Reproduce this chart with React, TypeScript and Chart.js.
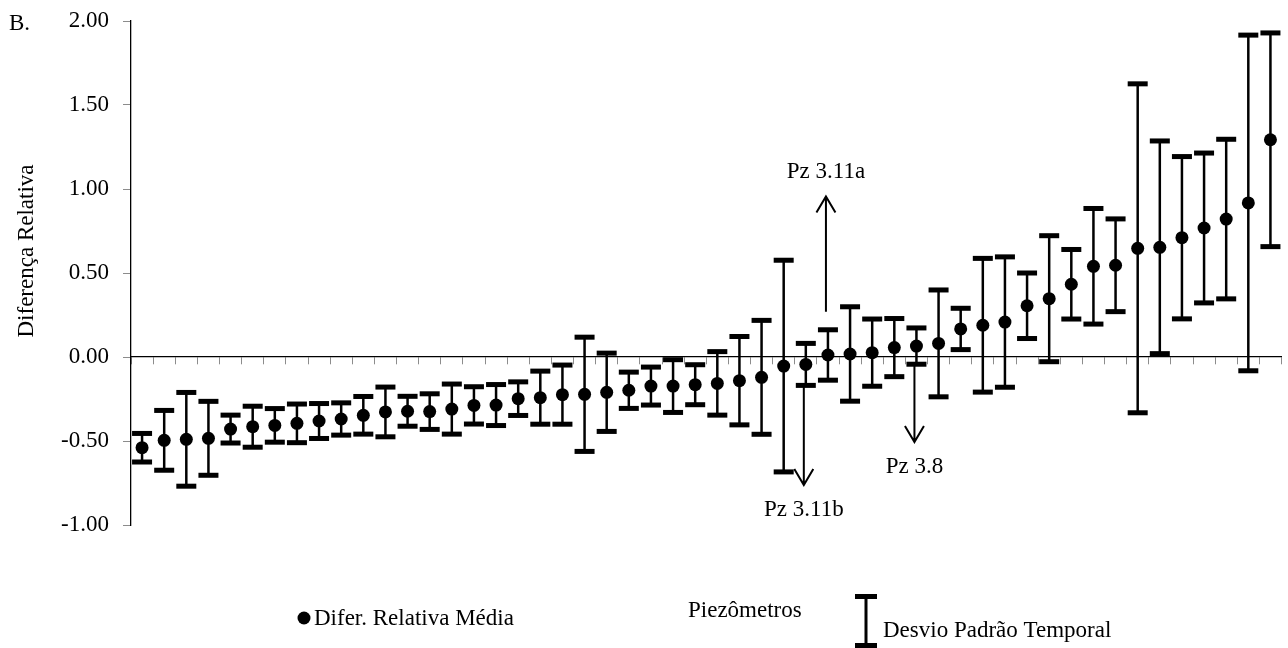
import React, { useEffect, useRef } from "react";
import { Chart, registerables } from "chart.js";

Chart.register(...registerables);

const FONT = "'Liberation Serif', 'Times New Roman', serif";

// Mean relative difference per piezometer, sorted ascending
const means = [
  -0.54, -0.496, -0.49, -0.484, -0.429, -0.415, -0.407, -0.395, -0.381, -0.369,
  -0.347, -0.327, -0.323, -0.325, -0.31, -0.288, -0.286, -0.248, -0.242, -0.224,
  -0.222, -0.21, -0.198, -0.173, -0.173, -0.165, -0.157, -0.141, -0.121, -0.054,
  -0.044, 0.012, 0.018, 0.026, 0.056, 0.065, 0.081, 0.167, 0.189, 0.208,
  0.305, 0.347, 0.433, 0.54, 0.546, 0.647, 0.653, 0.71, 0.768, 0.821,
  0.917, 1.293,
];

// Temporal standard deviation for each piezometer
const stdDevs = [
  0.085, 0.178, 0.279, 0.22, 0.083, 0.122, 0.1, 0.115, 0.104, 0.096,
  0.112, 0.148, 0.089, 0.106, 0.149, 0.111, 0.122, 0.1, 0.158, 0.176,
  0.34, 0.233, 0.108, 0.113, 0.157, 0.119, 0.189, 0.263, 0.339, 0.63,
  0.125, 0.15, 0.281, 0.2, 0.173, 0.108, 0.318, 0.123, 0.398, 0.388,
  0.195, 0.375, 0.207, 0.344, 0.276, 0.979, 0.633, 0.483, 0.446, 0.475,
  0.999, 0.636,
];

const categories = means.map((_, i) => String(i + 1));

const yTicks = [-1, -0.5, 0, 0.5, 1, 1.5, 2];

// Highlighted piezometers: arrow from -> to, label baseline at textAt
const noteLabels = ["Pz 3.11a", "Pz 3.11b", "Pz 3.8"];
const noteIndex = [31, 30, 35];
const noteFrom = [0.27, -0.171, -0.042];
const noteTo = [0.955, -0.762, -0.506];
const noteTextAt = [1.067, -0.946, -0.689];

const panelLetter = "B.";
const yTitle = "Diferença Relativa";
const xTitle = "Piezômetros";
const meanLegend = "Difer. Relativa Média";
const sdLegend = "Desvio Padrão Temporal";

const errorBars = {
  id: "errorBars",
  beforeDatasetsDraw(chart: any) {
    const { ctx, scales } = chart;
    const xs = scales.x;
    const ys = scales.y;
    ctx.save();
    ctx.fillStyle = "#000";
    ctx.strokeStyle = "#000";
    means.forEach((m, i) => {
      const x = xs.getPixelForValue(i);
      const yTop = ys.getPixelForValue(m + stdDevs[i]);
      const yBot = ys.getPixelForValue(m - stdDevs[i]);
      ctx.lineWidth = 2.5;
      ctx.beginPath();
      ctx.moveTo(x, yTop);
      ctx.lineTo(x, yBot);
      ctx.stroke();
      ctx.fillRect(x - 10, yTop - 2.5, 20, 5);
      ctx.fillRect(x - 10, yBot - 2.5, 20, 5);
    });
    ctx.restore();
  },
};

const notes = {
  id: "notes",
  afterDatasetsDraw(chart: any) {
    const { ctx, scales } = chart;
    const xs = scales.x;
    const ys = scales.y;
    ctx.save();
    ctx.strokeStyle = "#000";
    ctx.fillStyle = "#000";
    ctx.lineWidth = 2;
    ctx.font = `23px ${FONT}`;
    ctx.textAlign = "center";
    ctx.textBaseline = "alphabetic";
    noteLabels.forEach((label, k) => {
      const x = xs.getPixelForValue(noteIndex[k]) - 2;
      const y0 = ys.getPixelForValue(noteFrom[k]);
      const y1 = ys.getPixelForValue(noteTo[k]);
      const dir = y1 < y0 ? 1 : -1;
      ctx.beginPath();
      ctx.moveTo(x, y0);
      ctx.lineTo(x, y1);
      ctx.moveTo(x - 9.5, y1 + dir * 16);
      ctx.lineTo(x, y1);
      ctx.lineTo(x + 9.5, y1 + dir * 16);
      ctx.stroke();
      ctx.fillText(label, x, ys.getPixelForValue(noteTextAt[k]));
    });
    ctx.restore();
  },
};

const decorations = {
  id: "decorations",
  afterDraw(chart: any) {
    const { ctx, chartArea } = chart;
    ctx.save();
    ctx.fillStyle = "#000";
    ctx.font = `23px ${FONT}`;
    ctx.textBaseline = "alphabetic";
    ctx.textAlign = "left";
    ctx.fillText(panelLetter, 9, 30);

    // vertical axis title
    ctx.save();
    ctx.translate(33, (chartArea.top + chartArea.bottom) / 2 - 22);
    ctx.rotate(-Math.PI / 2);
    ctx.textAlign = "center";
    ctx.fillText(yTitle, 0, 0);
    ctx.restore();

    // legend: mean marker
    ctx.beginPath();
    ctx.arc(304, 618, 6.5, 0, Math.PI * 2);
    ctx.fill();
    ctx.textAlign = "left";
    ctx.fillText(meanLegend, 314, 625);

    ctx.fillText(xTitle, 688, 617);

    // legend: error bar symbol
    ctx.fillRect(855, 594, 22, 5);
    ctx.fillRect(855, 643, 22, 5);
    ctx.fillRect(864.5, 596, 3, 49);
    ctx.fillText(sdLegend, 883, 637);
    ctx.restore();
  },
};

export default function App() {
  const ref = useRef<HTMLCanvasElement | null>(null);

  useEffect(() => {
    if (!ref.current) return;
    const chart = new Chart(ref.current, {
      type: "line",
      data: {
        labels: categories,
        datasets: [
          {
            label: meanLegend,
            data: means,
            showLine: false,
            pointRadius: 6.5,
            pointHoverRadius: 6.5,
            pointBackgroundColor: "#000",
            pointBorderColor: "#000",
            pointBorderWidth: 0,
          },
        ],
      },
      options: {
        responsive: false,
        animation: false,
        devicePixelRatio: 1,
        events: [],
        layout: { padding: { top: 21, bottom: 123, left: 0, right: 3 } },
        plugins: {
          legend: { display: false },
          tooltip: { enabled: false },
        },
        scales: {
          x: {
            type: "category",
            position: { y: 0 } as any,
            offset: true,
            grid: {
              display: true,
              drawOnChartArea: false,
              drawTicks: true,
              tickLength: 7,
              color: "#8c8c8c",
              offset: true,
            },
            border: { display: true, color: "#000", width: 1.3 },
            ticks: { display: false },
          },
          y: {
            min: -1,
            max: 2,
            afterBuildTicks: (scale: any) => {
              scale.ticks = yTicks.map((v) => ({ value: v }));
            },
            afterFit: (scale: any) => {
              scale.width = 131;
              scale.paddingTop = 0;
              scale.paddingBottom = 0;
            },
            ticks: {
              callback: (v: any) => Number(v).toFixed(2),
              font: { family: FONT, size: 23 },
              color: "#000",
              padding: 14,
            },
            grid: {
              drawOnChartArea: false,
              drawTicks: true,
              tickLength: 8,
              color: "#8c8c8c",
            },
            border: { display: true, color: "#000", width: 1.3 },
          },
        },
      },
      plugins: [errorBars, notes, decorations],
    });
    return () => chart.destroy();
  }, []);

  return (
    <div style={{ position: "fixed", left: 0, top: 0, width: 1288, height: 648, background: "#fff" }}>
      <canvas ref={ref} width={1288} height={648} style={{ display: "block" }} />
    </div>
  );
}
